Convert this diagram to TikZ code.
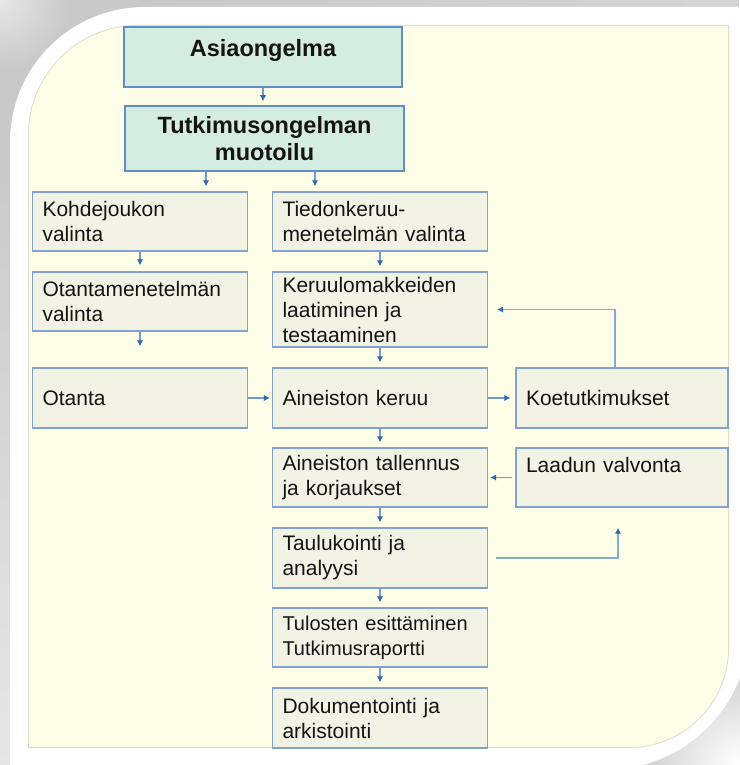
\documentclass[tikz,border=0pt]{standalone}
\usepackage{fontspec}
\setmainfont{Liberation Sans}
\usepackage{tikz}
\usetikzlibrary{arrows.meta}
\definecolor{bggray}{HTML}{C9C9C9}
\definecolor{bglight}{HTML}{E6E6E6}
\definecolor{panelcream}{HTML}{FEFDE8}
\definecolor{panelline}{HTML}{DEDECB}
\definecolor{headfill}{HTML}{D5ECE2}
\definecolor{headline}{HTML}{5F8FC0}
\definecolor{stepfill}{HTML}{F3F3E5}
\definecolor{stepline}{HTML}{80A4CB}
\definecolor{flowline}{HTML}{6E9BCB}
\definecolor{flowtip}{HTML}{2B6AAE}
\definecolor{backline}{HTML}{86ABD3}
\definecolor{txt}{HTML}{141414}

\begin{document}
\begin{tikzpicture}[x=1pt, y=-1pt,
    headbox/.style={draw=headline, fill=headfill, line width=1.6pt, inner sep=0pt,
                    align=center, text=txt, font=\fontsize{23.5}{27}\selectfont\bfseries},
    stepbox/.style={draw=stepline, fill=stepfill, line width=1.4pt, text width=195pt,
                    inner xsep=10pt, inner ysep=0pt, minimum height=59pt, align=left,
                    text=txt, font=\fontsize{21}{25}\selectfont},
    flow/.style={draw=flowline, line width=1.3pt, -{Latex[length=6pt,width=6.5pt,color=flowtip]}},
    backflow/.style={flow, draw=backline, line width=1.8pt},
  ]

  \def\colL{140}   % left column centre
  \def\colR{380}   % main column centre
  \def\colX{622}   % side column centre

  \useasboundingbox (0,0) rectangle (739,765);

  % --- shadow behind the frame ---
  \fill[bggray] (0,0) rectangle (739,765);
  \shade[left color=bggray, right color=bggray!60!bglight] (150,0) rectangle (739,12);
  \shade[top color=bggray, bottom color=bglight] (0,150) rectangle (12,765);
  \shade[inner color=bglight, outer color=bggray] (0,0) circle (70);
  \shade[inner color=white, outer color=bggray] (739,765) circle (110);

  % --- frame (round top-left and bottom-right corners) ---
  \begin{scope}
    \clip[rounded corners=135pt] (10,7) rectangle (1500,1500);
    \fill[white, rounded corners=145pt] (-800,-800) rectangle (750,770);
  \end{scope}

  % --- panel ---
  \begin{scope}
    \clip[rounded corners=110pt] (28,25) rectangle (1500,1500);
    \clip[rounded corners=100pt] (-800,-800) rectangle (729,748);
    \fill[panelcream] (0,0) rectangle (739,765);
    \draw[panelline, line width=1.6pt, rounded corners=110pt] (28,25) rectangle (1500,1500);
    \draw[panelline, line width=1.6pt, rounded corners=100pt] (-800,-800) rectangle (729,748);
  \end{scope}

  % --- problem boxes ---
  \node[headbox, minimum width=278pt, minimum height=60pt, text height=16pt, text depth=16pt]
    (asia) at (263,57) {Asiaongelma};
  \node[headbox, minimum width=279pt, minimum height=65pt]
    (tutk) at (264.5,138.5) {Tutkimusongelman\\muotoilu};

  % --- left column ---
  \node[stepbox] (kohde) at (\colL,221.5) {Kohdejoukon\\valinta};
  \node[stepbox] (otmen) at (\colL,301.5) {Otantamenetelmän\\valinta};
  \node[stepbox, minimum height=60pt] (otanta) at (\colL,398) {Otanta};

  % --- main column ---
  \node[stepbox] (tiedon) at (\colR,221.5) {Tiedonkeruu-\\menetelmän valinta};
  \node[stepbox, minimum height=75pt] (lomak) at (\colR,309.5) {Keruulomakkeiden\\laatiminen ja\\testaaminen};
  \node[stepbox, minimum height=60pt] (keruu) at (\colR,398) {Aineiston keruu};
  \node[stepbox] (tallennus) at (\colR,477.5) {Aineiston tallennus\\ja korjaukset};
  \node[stepbox, minimum height=60pt] (taulu) at (\colR,558) {Taulukointi ja\\analyysi};
  \node[stepbox] (tulos) at (\colR,637.5) {\fontsize{20}{25}\selectfont Tulosten~esittäminen\\Tutkimusraportti};
  \node[stepbox, minimum height=60pt] (dokum) at (\colR,718) {Dokumentointi ja\\arkistointi};

  % --- side column ---
  \node[stepbox, text width=192pt, minimum height=60pt] (koe) at (\colX,398) {Koetutkimukset};
  \node[stepbox, text width=192pt] (laatu) at (\colX,477.5) {Laadun valvonta\\\mbox{}};

  % --- arrows ---
  \draw[flow, shorten >=4pt] (asia.south) -- (asia.south |- tutk.north);
  \coordinate (tsplitL) at ([xshift=-58.5pt]tutk.south);
  \coordinate (tsplitR) at ([xshift=50.5pt]tutk.south);
  \draw[flow, shorten >=5pt] (tsplitL) -- (tsplitL |- kohde.north);
  \draw[flow, shorten >=5pt] (tsplitR) -- (tsplitR |- tiedon.north);

  \draw[flow, shorten >=6pt] (kohde) -- (otmen);
  \draw[flow, shorten >=21pt] (otmen) -- (otanta);

  \foreach \a/\b in {tiedon/lomak, lomak/keruu, keruu/tallennus, tallennus/taulu, taulu/tulos, tulos/dokum}
    \draw[flow, shorten >=5pt] (\a) -- (\b);

  \draw[flow, shorten >=2pt] (otanta) -- (keruu);
  \draw[flow, shorten >=5pt] (keruu) -- (koe);
  \draw[flow, shorten <=3pt, shorten >=2pt] (laatu) -- (tallennus);

  % feedback loops
  \coordinate (koeup) at ([xshift=-7pt]koe.north);
  \draw[backflow, shorten >=9pt] (koeup) |- (lomak.east);
  \coordinate (laatudown) at ([xshift=-4pt]laatu.south);
  \draw[backflow, shorten <=8pt, shorten >=20pt] (taulu.east) -| (laatudown);

\end{tikzpicture}
\end{document}
